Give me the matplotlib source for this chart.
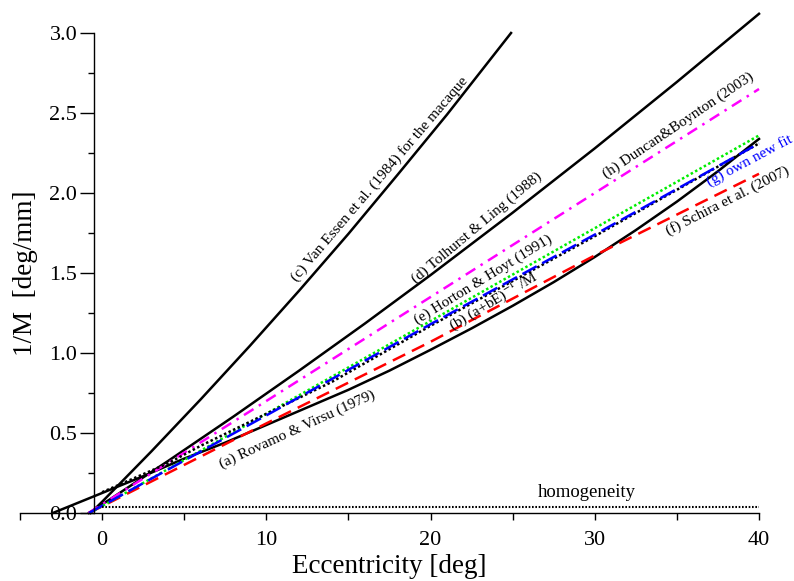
import numpy as np
import matplotlib
matplotlib.use('Agg')
import matplotlib.pyplot as plt

# values (eccentricity in deg, 1/M in deg/mm)
E_a = [-3, 0, 2.5, 5, 7.5, 10, 12.5, 15, 17.5, 20, 22.5, 25, 27.5, 30, 32.5, 35, 37.5, 40]
M_a = [0.0, 0.125, 0.23, 0.34, 0.44, 0.55, 0.66, 0.77, 0.89, 1.02, 1.154, 1.295, 1.443, 1.60, 1.768, 1.946, 2.136, 2.338]

E_b = [0, 2, 4, 6, 8, 10, 12, 14, 20, 30, 40]
M_b = [0.13, 0.22, 0.31, 0.42, 0.52, 0.62, 0.72, 0.82, 1.17, 1.73, 2.31]

E_c = [-0.7, 0, 3, 6, 9, 12, 15, 18, 21, 24.9]
M_c = [0.0, 0.07, 0.385, 0.71, 1.045, 1.39, 1.745, 2.115, 2.49, 3.0]

E_d = [-0.8, 0, 4, 8, 12, 16, 20, 25, 30, 35, 40]
M_d = [0.0, 0.053, 0.324, 0.603, 0.89, 1.184, 1.487, 1.877, 2.279, 2.694, 3.12]

E_e = [-0.75, 10, 20, 30, 40]
M_e = [0.0, 0.62, 1.20, 1.78, 2.36]

E_f = [-0.8, 10, 20, 30, 40]
M_f = [0.0, 0.56, 1.07, 1.61, 2.12]

E_g = [-0.8, 10, 20, 30, 40]
M_g = [0.0, 0.61, 1.18, 1.74, 2.31]

E_h = [-0.83, 10, 20, 30, 40]
M_h = [0.0, 0.70, 1.35, 2.0, 2.65]

E_hom = [0, 40]
M_hom = [0.04, 0.04]

plt.rcParams['font.family'] = ['Liberation Serif', 'DejaVu Serif']
plt.rcParams['mathtext.fontset'] = 'stix'

font_size = 19.5
tick_label_size = 16
ann_size = 11

fig = plt.figure(figsize=(7.94, 5.81), dpi=100)
ax = fig.add_axes([20/794, 1-513/581, 739/794, 480/581])

lw = 1.8
ax.plot(E_a, M_a, color='k', lw=lw, clip_on=False)
ax.plot(E_c, M_c, color='k', lw=lw, clip_on=False)
ax.plot(E_d, M_d, color='k', lw=lw, clip_on=False)
ax.plot(E_h, M_h, color='magenta', lw=lw, ls=(0, (4.5, 2.5, 1, 2.5)), clip_on=False)
ax.plot(E_f, M_f, color='red', lw=lw, ls=(0, (5.5, 3)), clip_on=False)
ax.plot(E_e, M_e, color='#00ee00', lw=lw, ls=(0, (1, 1)), clip_on=False)
ax.plot(E_b, M_b, color='k', lw=lw, ls=(0, (1, 1)), clip_on=False)
ax.plot(E_g, M_g, color='blue', lw=lw, ls=(0, (6.5, 2.5)), clip_on=False)
ax.plot(E_hom, M_hom, color='k', lw=1.5, ls=(0, (0.8, 0.8)), clip_on=False)

# labels along the curves
ax.text(16.9, 2.09, '(c) Van Essen et al. (1984) for the macaque', rotation=49.5,
        ha='center', va='center', fontsize=ann_size, rotation_mode='anchor')
ax.text(22.8, 1.78, '(d) Tolhurst & Ling (1988)', rotation=40,
        ha='center', va='center', fontsize=ann_size, rotation_mode='anchor')
ax.text(35.1, 2.42, '(h) Duncan&Boynton (2003)', rotation=34,
        ha='center', va='center', fontsize=ann_size, rotation_mode='anchor')
ax.text(23.2, 1.46, '(e) Horton & Hoyt (1991)', rotation=31.5,
        ha='center', va='center', fontsize=ann_size, rotation_mode='anchor')
ax.text(23.8, 1.33, r'(b) (a+bE)$^{-1}$ /M', rotation=31,
        ha='center', va='center', fontsize=ann_size, rotation_mode='anchor')
ax.text(39.4, 2.2, '(g) own new fit', rotation=28, color='blue',
        ha='center', va='center', fontsize=ann_size, rotation_mode='anchor', clip_on=False)
ax.text(38.1, 1.95, '(f) Schira et al. (2007)', rotation=27,
        ha='center', va='center', fontsize=ann_size, rotation_mode='anchor')
ax.text(11.9, 0.52, '(a) Rovamo & Virsu (1979)', rotation=24.6,
        ha='center', va='center', fontsize=ann_size, rotation_mode='anchor')
ax.text(29.5, 0.13, 'homogeneity', ha='center', va='center', fontsize=13.5)

ax.set_xlim(-5, 40)
ax.set_ylim(0, 3)
ax.spines['top'].set_visible(False)
ax.spines['right'].set_visible(False)
ax.spines['left'].set_position(('data', -0.5))
ax.spines['left'].set_bounds(0, 3)
for sp in ax.spines.values():
  sp.set_linewidth(1.0)

ax.set_xticks([0, 10, 20, 30, 40])
ax.set_xticks([-5, 5, 15, 25, 35], minor=True)
ax.set_yticks(np.arange(0, 3.01, 0.5))
ax.set_yticks(np.arange(0.25, 3.0, 0.5), minor=True)
ax.yaxis.set_major_formatter(matplotlib.ticker.FormatStrFormatter('%.1f'))

ax.tick_params(axis='x', which='both', direction='out', length=5, width=1.0,
               labelsize=tick_label_size, pad=8)
ax.tick_params(axis='y', which='major', direction='out', length=10, width=1.0,
               labelsize=tick_label_size, pad=2)
ax.tick_params(axis='y', which='minor', direction='out', length=4, width=1.0)

ax.set_xlabel('Eccentricity [deg]', fontsize=font_size)
ax.xaxis.set_label_coords(0.5, -0.085)
ax.set_ylabel('1/M  [deg/mm]', fontsize=font_size)
ax.yaxis.set_label_coords(0.025, 0.5)

fig.savefig('out.png', dpi=100)
